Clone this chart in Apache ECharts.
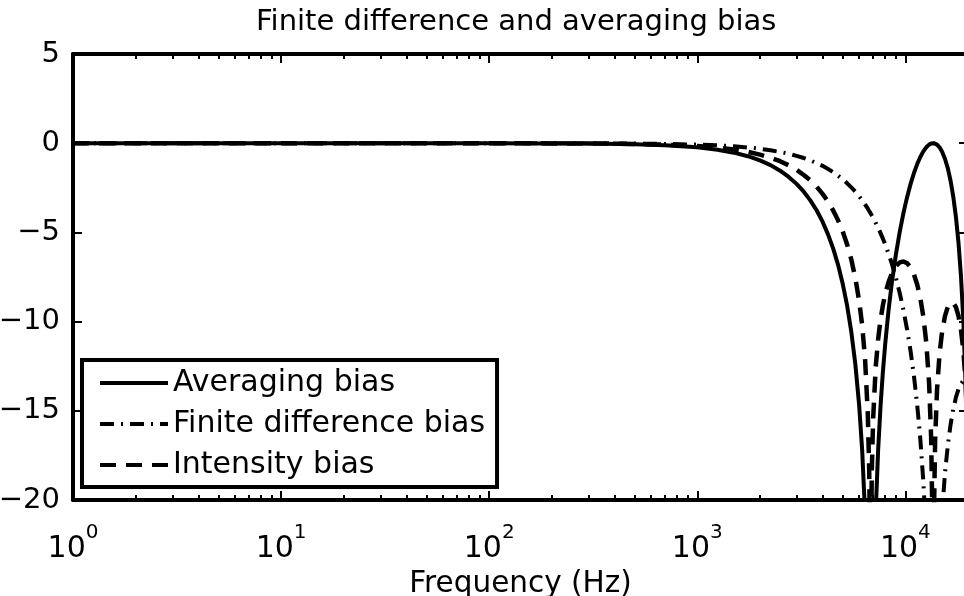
<!DOCTYPE html>
<html><head><meta charset="utf-8">
<script src="https://cdn.jsdelivr.net/npm/echarts@6/dist/echarts.min.js"></script>
<style>html,body{margin:0;padding:0;background:#fff}#c{width:964px;height:596px}</style>
</head><body><div id="c"></div>
<script>
// Frequency samples (Hz)
const freq = [1, 10, 100, 200, 300, 500, 700, 1000, 1250, 1500, 1750, 2000, 2250, 2500, 2750, 3000, 3250, 3500, 3750, 4000, 4250, 4500, 4750, 5000, 5250, 5500, 5750, 6000, 6200, 6400, 6600, 6700, 6750, 6800, 6850, 6900, 7000, 7200, 7400, 7600, 7800, 8000, 8300, 8600, 9000, 9400, 9800, 10200, 10600, 11000, 11400, 11800, 12200, 12600, 13000, 13300, 13500, 13600, 13700, 13900, 14200, 14600, 15000, 15500, 16000, 16500, 17000, 17500, 18000, 18500, 19000, 19500, 20000];
// Bias values (dB)
const averagingBias = [0, 0, 0, -0.01, -0.02, -0.06, -0.11, -0.23, -0.37, -0.53, -0.73, -0.96, -1.23, -1.54, -1.89, -2.28, -2.72, -3.22, -3.77, -4.40, -5.11, -5.91, -6.82, -7.88, -9.11, -10.58, -12.39, -14.72, -17.19, -20.70, -26.71, -32.73, -38.75, -60, -38.75, -32.73, -26.71, -20.70, -17.19, -14.72, -12.81, -11.26, -9.38, -7.87, -6.26, -4.96, -3.89, -3.01, -2.28, -1.67, -1.17, -0.77, -0.46, -0.23, -0.08, -0.02, 0, 0, 0, -0.02, -0.08, -0.23, -0.46, -0.87, -1.41, -2.12, -3.01, -4.14, -5.57, -7.43, -9.96, -13.71, -20.70];
const finiteDifferenceBias = [0, 0, 0, 0, -0.01, -0.02, -0.04, -0.08, -0.12, -0.17, -0.24, -0.31, -0.40, -0.49, -0.59, -0.71, -0.83, -0.97, -1.12, -1.27, -1.44, -1.63, -1.82, -2.03, -2.25, -2.48, -2.72, -2.98, -3.20, -3.43, -3.67, -3.80, -3.86, -3.92, -3.99, -4.05, -4.18, -4.46, -4.74, -5.04, -5.35, -5.67, -6.19, -6.74, -7.53, -8.41, -9.38, -10.46, -11.67, -13.06, -14.67, -16.58, -18.96, -22.08, -26.75, -32.94, -42.61, -60, -42.73, -33.32, -27.51, -23.36, -20.75, -18.51, -16.93, -15.76, -14.89, -14.25, -13.79, -13.48, -13.31, -13.26, -13.33];
const intensityBias = [0, 0, 0, -0.01, -0.01, -0.04, -0.08, -0.16, -0.24, -0.35, -0.48, -0.64, -0.81, -1.01, -1.24, -1.49, -1.78, -2.09, -2.44, -2.84, -3.27, -3.77, -4.32, -4.95, -5.68, -6.53, -7.56, -8.85, -10.20, -12.07, -15.19, -18.26, -21.31, -40, -21.37, -18.39, -15.45, -12.58, -10.97, -9.88, -9.08, -8.46, -7.78, -7.31, -6.89, -6.68, -6.63, -6.73, -6.97, -7.36, -7.92, -8.68, -9.71, -11.16, -13.41, -16.48, -21.31, -40, -21.37, -16.67, -13.80, -11.80, -10.61, -9.69, -9.17, -8.94, -8.95, -9.19, -9.68, -10.46, -11.63, -13.48, -17.02];
// Axis ticks
const majorTicksX = [1, 10, 100, 1000, 10000];
const minorTicksX = [2, 3, 4, 5, 6, 7, 8, 9, 20, 30, 40, 50, 60, 70, 80, 90, 200, 300, 400, 500, 600, 700, 800, 900, 2000, 3000, 4000, 5000, 6000, 7000, 8000, 9000];
const seriesNames = ['Averaging bias', 'Finite difference bias', 'Intensity bias'];

const FONT = 'DejaVu Sans';
const pair = arr => freq.map((f, i) => [f, arr[i]]);

const chart = echarts.init(document.getElementById('c'), null, {renderer: 'canvas'});

function logAxis(pos, minor, labels) {
  return {
    type: 'log', logBase: 10, min: 1, max: 20000, position: pos,
    axisLine: {show: !minor, onZero: false, lineStyle: {color: '#000', width: 4}},
    axisTick: {show: true, inside: true, length: minor ? 5 : 9, lineStyle: {color: '#000', width: 2},
      customValues: minor ? minorTicksX : majorTicksX},
    minorTick: {show: false},
    splitLine: {show: false},
    axisLabel: labels ? {
      show: true, customValues: majorTicksX, margin: 23, color: '#000',
      formatter: v => '{b|10}{s|' + Math.round(Math.log10(v)) + '}',
      rich: {
        b: {fontFamily: FONT, fontSize: 30, color: '#000', lineHeight: 52},
        s: {fontFamily: FONT, fontSize: 20, color: '#000', verticalAlign: 'top', lineHeight: 20}
      }
    } : {show: false},
    name: labels ? 'Frequency (Hz)' : '',
    nameLocation: 'middle', nameGap: 65,
    nameTextStyle: {fontFamily: FONT, fontSize: 29.5, color: '#000'}
  };
}
function valAxis(pos, labels) {
  return {
    type: 'value', min: -20, max: 5, interval: 5, position: pos,
    axisLine: {show: true, onZero: false, lineStyle: {color: '#000', width: 4}},
    axisTick: {show: true, inside: true, length: 9, lineStyle: {color: '#000', width: 2}},
    splitLine: {show: false},
    axisLabel: labels ? {show: true, margin: 13, color: '#000', fontFamily: FONT, fontSize: 29,
      padding: [4, 0, 0, 0],
      formatter: v => String(v).replace('-', '\u2212')} : {show: false}
  };
}

chart.setOption({
  animation: false,
  backgroundColor: '#fff',
  title: {
    text: 'Finite difference and averaging bias', left: 256, top: 8, padding: 0,
    textStyle: {fontFamily: FONT, fontSize: 29, fontWeight: 'normal', color: '#000'}
  },
  grid: {left: 73, top: 54, right: -4, bottom: 96, containLabel: false, outerBoundsMode: 'none'},
  xAxis: [logAxis('bottom', false, true), logAxis('bottom', true, false), logAxis('top', false, false), logAxis('top', true, false)],
  yAxis: [valAxis('left', true), valAxis('right', false)],
  legend: {
    orient: 'vertical', left: 82, top: 360, itemWidth: 68, itemHeight: 14, itemGap: 11,
    padding: [8, 12, 7, 16], borderColor: '#000', borderWidth: 4, borderRadius: 0, backgroundColor: '#fff',
    textStyle: {fontFamily: FONT, fontSize: 30, color: '#000'},
    lineStyle: {width: 4},
    itemStyle: {color: 'rgba(0,0,0,0)', borderWidth: 0, opacity: 0},
    data: seriesNames
  },
  series: [
    {name: seriesNames[0], type: 'line', data: pair(averagingBias), showSymbol: false, symbol: 'none',
      lineStyle: {color: '#000', width: 4, type: 'solid'}, itemStyle: {color: '#000'}, clip: true, z: 3},
    {name: seriesNames[1], type: 'line', data: pair(finiteDifferenceBias), showSymbol: false, symbol: 'none',
      lineStyle: {color: '#000', width: 4, type: [14, 7, 2, 7]}, itemStyle: {color: '#000'}, clip: true, z: 2},
    {name: seriesNames[2], type: 'line', data: pair(intensityBias), showSymbol: false, symbol: 'none',
      lineStyle: {color: '#000', width: 4.5, type: [16, 10]}, itemStyle: {color: '#000'}, clip: true, z: 2}
  ]
});
</script></body></html>
